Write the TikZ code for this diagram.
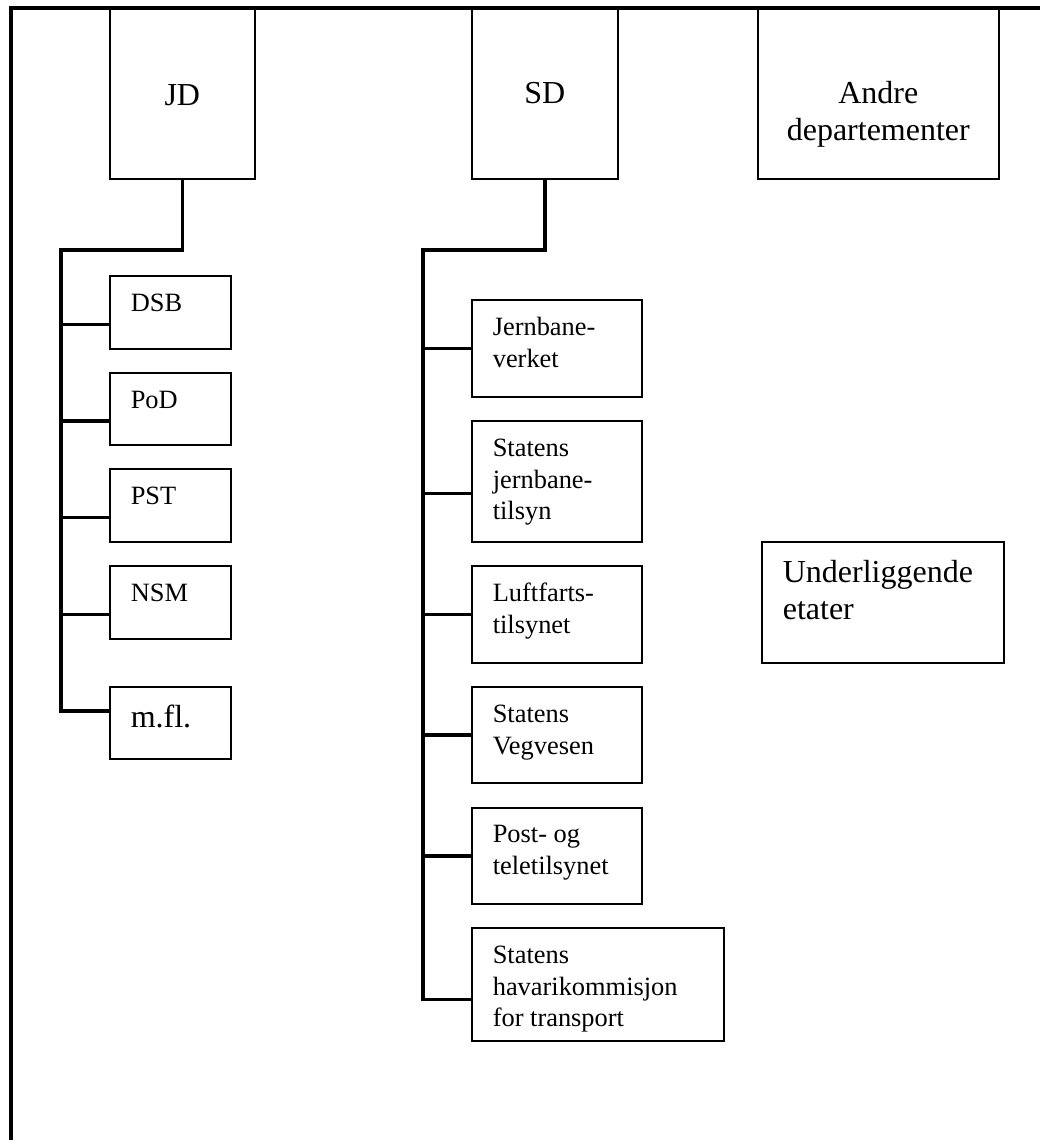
\documentclass[tikz,border=0pt]{standalone}
\usepackage{fontspec}
\setmainfont{Liberation Serif}
\newcommand\smallfnt{\fontsize{26.4}{31.5}\selectfont}
\newcommand\bigfnt{\fontsize{32}{36.7}\selectfont}
% height, width, font, first-baseline offset, text
\newcommand\lefttext[5]{\parbox[t][#1pt][t]{#2pt}{#3\raggedright\leftskip=21pt\relax\rule{0pt}{#4pt}#5}}
\newcommand\centertext[5]{\parbox[t][#1pt][t]{#2pt}{#3\centering\rule{0pt}{#4pt}#5}}
\tikzset{
  box/.style={draw, line width=1.6pt, inner sep=0pt, anchor=north west},
  conn/.style={line width=3.5pt},
  framestyle/.style={line width=4pt}
}
\begin{document}
\begin{tikzpicture}[x=1pt,y=-1pt]
\useasboundingbox (0,0) rectangle (1040,1140);
% top level
\node[box] (jd) at (109,8) {\centertext{170}{145}{\bigfnt}{97}{JD}};
\node[box] (sd) at (471,8) {\centertext{170}{146}{\bigfnt}{95}{SD}};
\node[box] (andre) at (757,8) {\centertext{170}{241}{\bigfnt}{95}{Andre\\departementer}};
% JD agencies
\node[box] (dsb) at (109,275) {\lefttext{73}{121}{\smallfnt}{36}{DSB}};
\node[box] (pod) at (109,372) {\lefttext{72}{121}{\smallfnt}{36}{PoD}};
\node[box] (pst) at (109,468) {\lefttext{73}{121}{\smallfnt}{36}{PST}};
\node[box] (nsm) at (109,565) {\lefttext{73}{121}{\smallfnt}{36}{NSM}};
\node[box] (mfl) at (109,686) {\lefttext{72}{121}{\bigfnt}{41}{m.fl.}};
% SD agencies
\node[box] (jbv) at (471,299) {\lefttext{97}{170}{\smallfnt}{36}{Jernbane-\\verket}};
\node[box] (sjt) at (471,420) {\lefttext{121}{170}{\smallfnt}{36}{Statens\\jernbane-\\tilsyn}};
\node[box] (luft) at (471,565) {\lefttext{97}{170}{\smallfnt}{36}{Luftfarts-\\tilsynet}};
\node[box] (veg) at (471,686) {\lefttext{96}{170}{\smallfnt}{36}{Statens\\Vegvesen}};
\node[box] (post) at (471,807) {\lefttext{96}{170}{\smallfnt}{35}{Post- og\\teletilsynet}};
\node[box] (hav) at (471,927) {\lefttext{113}{252}{\smallfnt}{36}{Statens\\havarikommisjon\\for transport}};
% other
\node[box] (und) at (761,541) {\lefttext{121}{242}{\bigfnt}{41}{Underliggende\\etater}};
% connection points
\coordinate (jdbus) at (61,250);
\coordinate (sdbus) at (423,250);
\coordinate (dsbC) at ([yshift=-12pt]dsb.west);
\coordinate (podC) at ([yshift=-12pt]pod.west);
\coordinate (pstC) at ([yshift=-12pt]pst.west);
\coordinate (nsmC) at ([yshift=-12pt]nsm.west);
\coordinate (mflC) at ([yshift=12pt]mfl.west);
\coordinate (jbvC) at (jbv.west);
\coordinate (sjtC) at ([yshift=-12pt]sjt.west);
\coordinate (luftC) at (luft.west);
\coordinate (vegC) at (veg.west);
\coordinate (postC) at (post.west);
\coordinate (havC) at ([yshift=-15pt]hav.west);
% connectors JD
\draw[conn] (jd.south) |- (jdbus) |- (mflC);
\foreach \c in {dsbC,podC,pstC,nsmC}{\draw[conn] (jdbus |- \c) -- (\c);}
% connectors SD
\draw[conn] (sd.south) |- (sdbus) |- (havC);
\foreach \c in {jbvC,sjtC,luftC,vegC,postC}{\draw[conn] (sdbus |- \c) -- (\c);}
% frame
\coordinate (frBL) at (11,1140);
\coordinate (frTL) at (11,8);
\coordinate (frTR) at (1040,8);
\draw[framestyle] (frBL) -- (frTL) -- (frTR);
\end{tikzpicture}
\end{document}
